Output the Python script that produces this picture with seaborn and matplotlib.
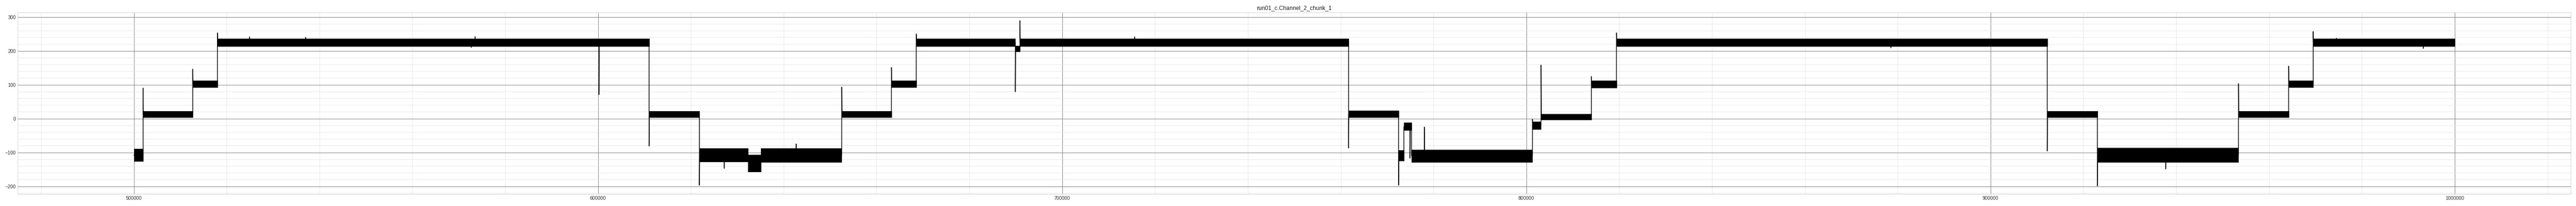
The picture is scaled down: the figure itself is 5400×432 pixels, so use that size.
import matplotlib
matplotlib.use('Agg')
import matplotlib.pyplot as plt
import matplotlib.ticker as mticker
import seaborn as sns

#noise bands of each level: start, end, lower edge, upper edge
band_x0 = [500000, 502000, 512700, 518000, 611000, 621850, 632300, 635100, 652500,
           663200, 668550, 689900, 690900, 761700, 772450, 773600, 775250, 801300,
           803150, 814000, 819400, 912200, 923000, 953400, 964200, 969500]
band_x1 = [502000, 512700, 518000, 611000, 621850, 632300, 635100, 652500, 663200,
           668550, 689900, 690900, 761700, 772450, 773600, 775250, 801300, 803150,
           814000, 819400, 912200, 923000, 953400, 964200, 969500, 1000000]
band_lo = [-126, 4, 92, 214, 4, -127, -157, -128, 4, 92, 214, 198, 214, 4, -124,
           -35, -129, -31, -4, 91, 214, 3, -129, 3, 92, 214]
band_hi = [-89, 22, 112, 236, 22, -88, -107, -88, 22, 112, 236, 215, 236, 23, -94,
           -12, -92, -9, 13, 112, 236, 22, -86, 22, 112, 236]

#trace through the levels, with the spikes at each step
trace_x = [500000, 502000, 502000, 502050, 512700, 512700, 512750, 518000, 518000,
           518050, 524900, 524900, 524950, 537000, 537000, 537050, 572700, 572700,
           572750, 573500, 573500, 573550, 600200, 600200, 600250, 611000, 611000,
           611050, 621850, 621850, 621900, 627200, 627200, 627250, 642700, 642700,
           642750, 652500, 652500, 652550, 663200, 663200, 663250, 668550, 668550,
           668600, 689900, 689900, 689950, 690900, 690900, 690950, 715600, 715600,
           715650, 761700, 761700, 761750, 772450, 772450, 772500, 773600, 773600,
           774900, 774900, 774950, 775250, 775250, 778000, 778000, 778050, 801300,
           801300, 801350, 803150, 803150, 803200, 814000, 814000, 814050, 819400,
           819400, 819450, 878500, 878500, 878550, 912200, 912200, 912250, 923000,
           923000, 923050, 937700, 937700, 937750, 953400, 953400, 953450, 964200,
           964200, 964250, 969500, 969500, 969550, 974500, 974500, 974550, 993200,
           993200, 993250, 1000000]
trace_y = [-108, -108, 90, 12, 12, 146, 102, 102, 253, 225, 225, 241, 225, 225, 240,
           225, 225, 210, 225, 225, 242, 225, 225, 71, 225, 225, -81, 13, 13, -197,
           -108, -108, -147, -108, -108, -75, -108, -108, 93, 13, 13, 151, 102, 102,
           250, 225, 225, 79, 206, 206, 289, 225, 225, 241, 225, 225, -87, 13, 13,
           -197, -108, -108, -24, -24, -117, -24, -24, -110, -110, -25, -110, -110,
           -2, -20, -20, 158, 5, 5, 124, 102, 102, 253, 225, 225, 209, 225, 225, -96,
           13, 13, -199, -108, -108, -149, -108, -108, 103, 13, 13, 155, 102, 102,
           257, 225, 225, 237, 225, 225, 207, 225, 225]

title = 'run01_c.Channel_2_chunk_1'

sns.set_style('whitegrid')
plt.rcParams['font.family'] = ['Liberation Sans', 'DejaVu Sans']
plt.rcParams['axes.edgecolor'] = '#cccccc'

fig, ax = plt.subplots(figsize=(75, 6), dpi=72)
fig.subplots_adjust(left=0.0069, right=0.998, top=0.9398, bottom=0.0572)

for x0, x1, lo, hi in zip(band_x0, band_x1, band_lo, band_hi):
    ax.fill_between([x0, x1], [lo, lo], [hi, hi], color='black', linewidth=0.8,
                    edgecolor='black')

sns.lineplot(x=trace_x, y=trace_y, sort=False, estimator=None, color='black',
             linewidth=1.5, ax=ax)

#grid: dark major lines, light minor lines
ax.xaxis.set_major_locator(mticker.MultipleLocator(100000))
ax.xaxis.set_minor_locator(mticker.MultipleLocator(20000))
ax.yaxis.set_major_locator(mticker.MultipleLocator(100))
ax.yaxis.set_minor_locator(mticker.MultipleLocator(20))
ax.ticklabel_format(axis='x', style='plain', useOffset=False)
ax.grid(which='major', color='#808080', linewidth=1.0)
ax.grid(which='minor', color='#e3e3e3', linewidth=0.8)
ax.set_axisbelow(True)
ax.tick_params(which='both', length=0, labelsize=10, labelcolor='#333333', pad=4)

ax.set_title(title, fontsize=12, color='#222222')

plt.savefig('out.png', dpi=72)
